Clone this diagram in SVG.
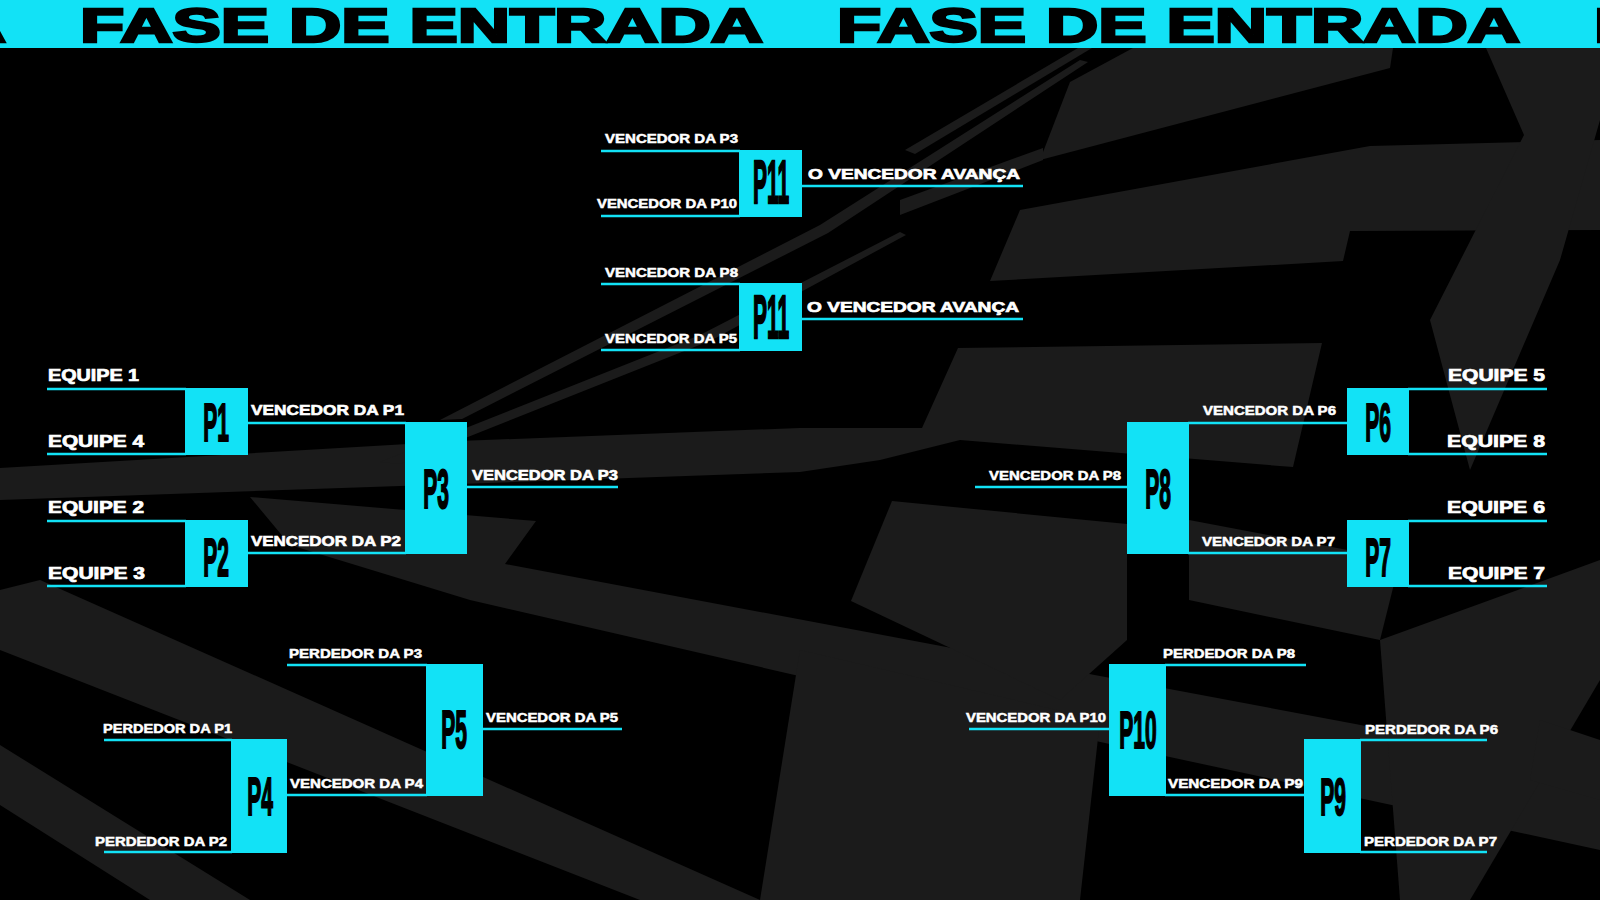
<svg xmlns="http://www.w3.org/2000/svg" width="1600" height="900" viewBox="0 0 1600 900">
<defs>
<style>
.bg{fill:#1b1b1b}
.box{fill:#12e2f6}
.ln{stroke:#12e2f6;stroke-width:2.5;fill:none}
.lbl{font-family:"Liberation Sans",Arial,sans-serif;font-weight:bold;fill:#fff;stroke:#fff;stroke-width:0.5;font-size:12.5px}
.lbl2{font-family:"Liberation Sans",Arial,sans-serif;font-weight:bold;fill:#fff;stroke:#fff;stroke-width:0.6;font-size:14px}
.team{font-family:"Liberation Sans",Arial,sans-serif;font-weight:bold;fill:#fff;stroke:#fff;stroke-width:0.7;font-size:16px}
.adv{font-family:"Liberation Sans",Arial,sans-serif;font-weight:bold;fill:#fff;stroke:#fff;stroke-width:0.7;font-size:15px}
.pid{font-family:"Liberation Sans",Arial,sans-serif;font-weight:bold;fill:#000;stroke:#000;stroke-width:0.8;font-size:21px;text-anchor:middle}
.title{font-family:"Liberation Sans",Arial,sans-serif;font-weight:bold;fill:#000;stroke:#000;stroke-width:2.5;font-size:48px}
</style>
</defs>
<rect x="0" y="0" width="1600" height="900" fill="#000"/>
<g id="background">
<polygon class="bg" points="1133,48 1393,48 1390,68 1040,160 1070,82"/>
<polygon class="bg" points="905,150 1078,48 1092,48 915,154"/>
<polygon class="bg" points="900,200 1043,148 1043,160 900,215"/>
<polygon class="bg" points="1020,210 1370,146 1600,140 1600,230 1350,231 1343,261 990,281"/>
<polygon class="bg" points="1486,48 1600,48 1600,120 1560,260 1470,470 1430,320 1524,135"/>
<polygon class="bg" points="0,468 459,441 800,428 922,428 958,348 1322,343 1293,467 960,440 880,460 800,472 400,486 0,500"/>
<polygon class="bg" points="250,497 536,521 505,564 1600,770 1600,850 860,690 470,600 290,545"/>
<polygon class="bg" points="0,590 40,580 760,900 640,900 0,650"/>
<polygon class="bg" points="0,745 250,900 150,900 0,805"/>
<polygon class="bg" points="892,501 1127,524 1127,640 1060,700 851,601"/>
<polygon class="bg" points="1189,520 1400,560 1380,640 1189,600"/>
<polygon class="bg" points="800,650 1100,720 1080,900 760,900"/>
<polygon class="bg" points="1380,640 1600,560 1600,680 1470,900 1400,900"/>
<polygon class="bg" points="1540,720 1600,740 1600,800 1530,780"/>
<polygon class="bg" points="440,420 820,225 1080,60 1088,62 828,233 462,419"/>
<polygon class="bg" points="380,462 700,335 900,232 906,235 712,340 400,464"/>
</g>
<g id="title-banner">
<rect x="0" y="0" width="1600" height="48" fill="#12e2f6"/>
<text class="title" x="-677" y="41.5" textLength="683" lengthAdjust="spacingAndGlyphs">FASE DE ENTRADA</text>
<text class="title" x="80" y="41.5" textLength="683" lengthAdjust="spacingAndGlyphs">FASE DE ENTRADA</text>
<text class="title" x="837" y="41.5" textLength="683" lengthAdjust="spacingAndGlyphs">FASE DE ENTRADA</text>
<text class="title" x="1594" y="41.5" textLength="683" lengthAdjust="spacingAndGlyphs">FASE DE ENTRADA</text>
</g>
<g id="connectors">
<line class="ln" x1="601" y1="151" x2="740" y2="151"/>
<line class="ln" x1="601" y1="216" x2="740" y2="216"/>
<line class="ln" x1="801" y1="186" x2="1023" y2="186"/>
<line class="ln" x1="601" y1="284" x2="740" y2="284"/>
<line class="ln" x1="601" y1="350" x2="740" y2="350"/>
<line class="ln" x1="801" y1="319" x2="1023" y2="319"/>
<line class="ln" x1="47" y1="389" x2="186" y2="389"/>
<line class="ln" x1="47" y1="454" x2="186" y2="454"/>
<line class="ln" x1="47" y1="521" x2="186" y2="521"/>
<line class="ln" x1="47" y1="586" x2="186" y2="586"/>
<line class="ln" x1="247" y1="423" x2="406" y2="423"/>
<line class="ln" x1="247" y1="553" x2="406" y2="553"/>
<line class="ln" x1="466" y1="487" x2="618" y2="487"/>
<line class="ln" x1="1408" y1="389" x2="1547" y2="389"/>
<line class="ln" x1="1408" y1="454" x2="1547" y2="454"/>
<line class="ln" x1="1408" y1="521" x2="1547" y2="521"/>
<line class="ln" x1="1408" y1="586" x2="1547" y2="586"/>
<line class="ln" x1="1188" y1="423" x2="1348" y2="423"/>
<line class="ln" x1="1188" y1="553" x2="1348" y2="553"/>
<line class="ln" x1="975" y1="487" x2="1128" y2="487"/>
<line class="ln" x1="287" y1="665" x2="427" y2="665"/>
<line class="ln" x1="286" y1="795" x2="427" y2="795"/>
<line class="ln" x1="482" y1="729" x2="622" y2="729"/>
<line class="ln" x1="104" y1="740" x2="232" y2="740"/>
<line class="ln" x1="104" y1="852" x2="232" y2="852"/>
<line class="ln" x1="1165" y1="665" x2="1306" y2="665"/>
<line class="ln" x1="969" y1="729" x2="1110" y2="729"/>
<line class="ln" x1="1165" y1="795" x2="1305" y2="795"/>
<line class="ln" x1="1360" y1="740" x2="1487" y2="740"/>
<line class="ln" x1="1360" y1="852" x2="1487" y2="852"/>
</g>
<g id="P11a">
<rect class="box" x="739" y="150" width="63" height="67"/>
<text class="pid" transform="translate(771,203) scale(1,2.9)" font-size="19.7">P11</text>
<text class="lbl" x="605" y="143" textLength="133" lengthAdjust="spacingAndGlyphs">VENCEDOR DA P3</text>
<text class="lbl" x="597" y="208" textLength="140" lengthAdjust="spacingAndGlyphs">VENCEDOR DA P10</text>
<text class="adv" x="808" y="179" textLength="212" lengthAdjust="spacingAndGlyphs">O VENCEDOR AVANÇA</text>
</g>
<g id="P11b">
<rect class="box" x="739" y="283" width="63" height="68"/>
<text class="pid" transform="translate(771,338) scale(1,2.9)" font-size="19.7">P11</text>
<text class="lbl" x="605" y="277" textLength="133" lengthAdjust="spacingAndGlyphs">VENCEDOR DA P8</text>
<text class="lbl" x="605" y="343" textLength="132" lengthAdjust="spacingAndGlyphs">VENCEDOR DA P5</text>
<text class="adv" x="807" y="312" textLength="212" lengthAdjust="spacingAndGlyphs">O VENCEDOR AVANÇA</text>
</g>
<g id="P1">
<rect class="box" x="185" y="388" width="63" height="67"/>
<text class="pid" transform="translate(216,441) scale(1,2.55)">P1</text>
<text class="team" x="48" y="381" textLength="91" lengthAdjust="spacingAndGlyphs">EQUIPE 1</text>
<text class="team" x="48" y="447" textLength="96" lengthAdjust="spacingAndGlyphs">EQUIPE 4</text>
</g>
<g id="P2">
<rect class="box" x="185" y="520" width="63" height="67"/>
<text class="pid" transform="translate(216,576) scale(1,2.55)">P2</text>
<text class="team" x="48" y="513" textLength="96" lengthAdjust="spacingAndGlyphs">EQUIPE 2</text>
<text class="team" x="48" y="579" textLength="97" lengthAdjust="spacingAndGlyphs">EQUIPE 3</text>
</g>
<g id="P3">
<rect class="box" x="405" y="422" width="62" height="132"/>
<text class="pid" transform="translate(436,508) scale(1,2.66)" font-size="22">P3</text>
<text class="lbl2" x="251" y="415" textLength="153" lengthAdjust="spacingAndGlyphs">VENCEDOR DA P1</text>
<text class="lbl2" x="251" y="546" textLength="150" lengthAdjust="spacingAndGlyphs">VENCEDOR DA P2</text>
<text class="lbl2" x="472" y="480" textLength="146" lengthAdjust="spacingAndGlyphs">VENCEDOR DA P3</text>
</g>
<g id="P6">
<rect class="box" x="1347" y="388" width="62" height="67"/>
<text class="pid" transform="translate(1378,441) scale(1,2.55)">P6</text>
<text class="team" x="1448" y="381" textLength="97" lengthAdjust="spacingAndGlyphs">EQUIPE 5</text>
<text class="team" x="1447" y="447" textLength="98" lengthAdjust="spacingAndGlyphs">EQUIPE 8</text>
</g>
<g id="P7">
<rect class="box" x="1347" y="520" width="62" height="67"/>
<text class="pid" transform="translate(1378,576) scale(1,2.55)">P7</text>
<text class="team" x="1447" y="513" textLength="98" lengthAdjust="spacingAndGlyphs">EQUIPE 6</text>
<text class="team" x="1448" y="579" textLength="97" lengthAdjust="spacingAndGlyphs">EQUIPE 7</text>
</g>
<g id="P8">
<rect class="box" x="1127" y="422" width="62" height="132"/>
<text class="pid" transform="translate(1158,508) scale(1,2.6)" font-size="21.5">P8</text>
<text class="lbl" x="1203" y="415" textLength="133" lengthAdjust="spacingAndGlyphs">VENCEDOR DA P6</text>
<text class="lbl" x="1202" y="546" textLength="133" lengthAdjust="spacingAndGlyphs">VENCEDOR DA P7</text>
<text class="lbl" x="989" y="480" textLength="132" lengthAdjust="spacingAndGlyphs">VENCEDOR DA P8</text>
</g>
<g id="P4">
<rect class="box" x="231" y="739" width="56" height="114"/>
<text class="pid" transform="translate(260,815) scale(1,2.55)">P4</text>
<text class="lbl" x="103" y="733" textLength="129" lengthAdjust="spacingAndGlyphs">PERDEDOR DA P1</text>
<text class="lbl" x="95" y="846" textLength="132" lengthAdjust="spacingAndGlyphs">PERDEDOR DA P2</text>
</g>
<g id="P5">
<rect class="box" x="426" y="664" width="57" height="132"/>
<text class="pid" transform="translate(454,748) scale(1,2.55)">P5</text>
<text class="lbl" x="289" y="658" textLength="133" lengthAdjust="spacingAndGlyphs">PERDEDOR DA P3</text>
<text class="lbl" x="290" y="788" textLength="133" lengthAdjust="spacingAndGlyphs">VENCEDOR DA P4</text>
<text class="lbl" x="486" y="722" textLength="132" lengthAdjust="spacingAndGlyphs">VENCEDOR DA P5</text>
</g>
<g id="P10">
<rect class="box" x="1109" y="664" width="57" height="132"/>
<text class="pid" transform="translate(1138,748) scale(1,2.48)" font-size="21.4">P10</text>
<text class="lbl" x="1163" y="658" textLength="132" lengthAdjust="spacingAndGlyphs">PERDEDOR DA P8</text>
<text class="lbl" x="966" y="722" textLength="140" lengthAdjust="spacingAndGlyphs">VENCEDOR DA P10</text>
</g>
<g id="P9">
<rect class="box" x="1304" y="739" width="57" height="114"/>
<text class="pid" transform="translate(1333,815) scale(1,2.5)" font-size="22">P9</text>
<text class="lbl" x="1168" y="788" textLength="135" lengthAdjust="spacingAndGlyphs">VENCEDOR DA P9</text>
<text class="lbl" x="1365" y="734" textLength="133" lengthAdjust="spacingAndGlyphs">PERDEDOR DA P6</text>
<text class="lbl" x="1364" y="846" textLength="133" lengthAdjust="spacingAndGlyphs">PERDEDOR DA P7</text>
</g>
</svg>
